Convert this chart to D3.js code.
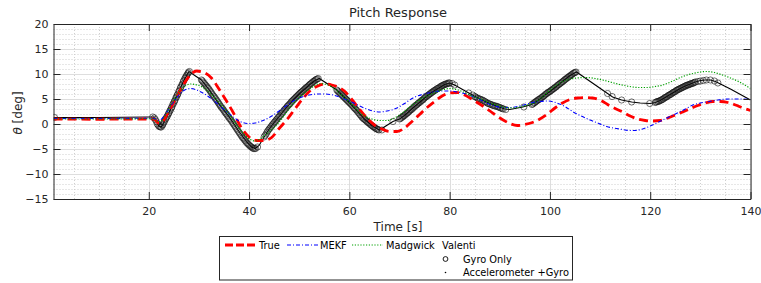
<!DOCTYPE html>
<meta charset="utf-8">
<style>
body { margin: 0; background: #fff; }
text { font-family: "DejaVu Sans", sans-serif; fill: #262626; }
.axis path, .axis line { stroke: #262626; }
.grid-major line { stroke: #dedede; stroke-width: 1; }
.grid-minor line { stroke: #cfcfcf; stroke-width: 1; stroke-dasharray: 1,2; }
.legend text { font-size: 9.8px; fill: #000; }
</style>
<svg width="761" height="283"></svg>
<script src="https://cdn.jsdelivr.net/npm/d3@7"></script>
<script>
// [time s, pitch deg]
var trueSeries = [[1,1.0],[10,0.95],[20,1.0],[21,1.0],[22,0.2],[23,0.8],[24,2.6],[25.5,5.3],[27,8.0],[28.5,10.0],[29.5,10.6],
  [31,10.3],[32.5,9.2],[34,7.0],[35.5,4.6],[37,2.0],[38.5,-0.8],[40,-2.6],[41.5,-3.3],[43,-3.3],[44.5,-2.7],[46,-0.9],
  [47.5,0.8],[49,2.8],[50.5,4.8],[52,6.5],[53.5,7.5],[55,8.0],[56.5,7.8],[57.5,7.5],[59,6.6],[60.5,4.9],[62,3.0],[63.5,1.2],
  [65,-0.2],[66.5,-1.0],[68,-1.5],[69.5,-1.5],[71,-0.8],[72.5,0.5],[74,1.9],[75.5,3.3],[77,4.5],[78.5,5.6],[80,6.2],[81.5,6.3],
  [83,5.8],[84.5,4.9],[86,4.0],[87.5,3.0],[89,1.9],[90.5,0.9],[92,0.1],[93.5,-0.3],[95,-0.1],[96.5,0.3],[98,1.0],[99.5,2.0],
  [101,3.2],[102.5,4.2],[104,4.9],[105.5,5.2],[107,5.3],[108.5,5.2],[110,4.8],[111.5,3.9],[113,3.1],[114.5,2.4],[116,1.6],
  [117.5,1.0],[119,0.7],[120.5,0.6],[122,0.7],[123.5,1.2],[125,1.8],[126.5,2.4],[128,3.1],[129.5,3.7],[131,4.2],[132.5,4.5],
  [134,4.5],[135.5,4.3],[137,3.8],[138.5,3.2],[140,2.7]];

var mekfSeries = [[1,1.1],[10,1.1],[20,1.15],[21,1.1],[22,0.7],[23,1.5],[24,3.0],[25,4.5],[26,5.8],[27,6.7],[28.3,7.1],
  [30,6.6],[32.3,5.2],[34,3.8],[35.6,2.4],[37,1.3],[38.2,0.5],[40,0.1],[41.2,0.2],[42.5,0.6],[44.2,1.4],[46,2.6],[48.2,4.2],
  [50,5.2],[52,5.8],[53.6,6.0],[55,6.0],[56.2,5.9],[58,5.4],[60.2,4.5],[62.5,3.4],[64.7,2.6],[66,2.4],[67.5,2.6],[69.5,3.2],
  [71,4.1],[72.7,5.2],[74.5,5.9],[76.7,6.4],[78.5,6.6],[80,6.6],[81.5,6.4],[84,5.8],[86,4.9],[87.6,4.1],[89,3.6],[90.5,3.3],
  [92,3.3],[94,3.6],[96.6,4.3],[98,4.5],[99.6,4.6],[101.4,4.2],[103,3.5],[104.5,2.5],[106,1.7],[108,0.8],[109.5,0.2],
  [111.3,-0.5],[113.9,-1.0],[115.9,-1.3],[117,-1.3],[118.5,-1.0],[120,-0.4],[121.9,0.5],[123.5,1.3],[125.2,2.1],[127,3.0],
  [128.5,3.8],[130,4.2],[131.8,4.5],[133.5,4.8],[135.8,5.0],[138,5.0],[140,4.9]];

var madgwickSeries = [[1,1.0],[10,1.0],[20,1.05],[21,1.0],[22,0.4],[23,1.2],[24,3.0],[25,4.8],[26,6.3],[27,7.4],[28.3,8.0],
  [30,7.7],[31.5,6.8],[32.9,5.5],[34.3,4.0],[35.6,2.5],[37.6,-0.3],[39,-2.0],[40.2,-3.1],[41.2,-3.4],[42,-3.1],[42.8,-2.5],
  [44.2,-1.4],[45.6,-0.1],[47.2,2.0],[48.8,4.1],[50.2,5.5],[51.6,6.6],[53,7.6],[54.2,8.1],[55.8,7.8],[57.2,6.9],[58.8,5.5],
  [60.8,3.6],[62.7,1.8],[64.5,1.0],[66,0.7],[67.5,0.7],[68.8,1.1],[70,1.8],[71.8,3.2],[73.5,4.5],[75,5.4],[76.7,6.1],
  [78.4,6.8],[80,7.1],[81.7,6.8],[83.4,6.1],[85,5.4],[86.7,4.8],[88,4.2],[89.4,3.8],[91,3.3],[92.5,3.2],[94,3.4],[95.5,3.8],
  [97,4.3],[98.5,5.4],[100,6.8],[101.5,7.9],[103.3,8.8],[105.3,9.2],[107.3,9.3],[109,9.1],[110.5,8.8],[112,8.4],[113.9,7.9],
  [115.9,7.5],[117.5,7.3],[119.3,7.3],[121,7.5],[122.5,7.8],[124.5,8.6],[126.5,9.5],[128.5,10.1],[130,10.4],[131.2,10.5],
  [132.8,10.3],[134.4,9.8],[136,9.2],[137.8,8.4],[140,7.1]];

// Valenti, accelerometer + gyro (solid black)
var accGyroSeries = [[1,1.3],[5,1.3],[10,1.3],[15,1.35],[20,1.4],[21,1.4],[21.5,0.6],[22,-0.4],[22.5,-0.6],[23,0.3],
  [24,2.2],[25,4.3],[26,6.5],[27,8.7],[28,10.5],[30.5,8.8],[32,6.9],[34,4.0],[36,1.5],[38,-1.5],[39.5,-3.5],[40.5,-4.6],
  [41.2,-4.9],[42,-4.3],[43,-2.6],[44,-1.0],[45,0.3],[46,1.5],[47,2.8],[48,3.9],[49,5.0],[50,6.0],[51,6.9],[52,7.8],[53,8.6],
  [54,9.1],[57.5,6.8],[58.5,5.8],[60,4.3],[61.5,2.7],[63,1.0],[64.5,-0.3],[66,-1.2],[68.7,0.5],[70,1.0],[71,1.7],[72,2.6],
  [73,3.5],[74,4.3],[75,5.2],[76,6.0],[77,6.7],[78,7.3],[79,7.9],[80,8.2],[81,7.8],[84,6.1],[86,5.0],[88,4.1],[89.6,3.5],
  [91,3.0],[92,2.9],[94.6,3.4],[96,3.8],[97,4.3],[98,5.0],[99,5.8],[100,6.5],[101,7.3],[102,8.1],[103,8.9],[104,9.7],
  [105.3,10.4],[111.5,6.1],[112.5,5.4],[114.3,4.8],[116.3,4.4],[118,4.2],[120,4.1],[121,4.3],[122,4.7],[123,5.3],[124,5.9],
  [125,6.5],[126,7.1],[127,7.6],[128,8.0],[129,8.4],[130,8.7],[131,8.8],[132,8.8],[133,8.5],[134,8.0],[136,7.0],[138,5.9],
  [140,4.8]];

// Valenti, gyro only (circle markers)
var gyroSeries = [[1.2,1.3],[20.8,1.4],[21.1,1.2],[21.3,0.9],[21.5,0.5],[21.7,0.0],[21.9,-0.3],[22.1,-0.5],[22.3,-0.6],
  [22.5,-0.6],[22.7,-0.3],[22.8,-0.1],[23.0,0.3],[23.1,0.5],[23.3,0.9],[23.4,1.1],[23.6,1.4],[23.7,1.6],[23.9,2.0],[24.0,2.2],
  [24.2,2.6],[24.3,2.8],[24.5,3.2],[24.6,3.4],[24.8,3.9],[24.9,4.1],[25.1,4.5],[25.2,4.7],[25.4,5.2],[25.5,5.4],[25.7,5.8],
  [25.8,6.0],[26.0,6.5],[26.1,6.7],[26.3,7.2],[26.4,7.4],[26.6,7.8],[26.7,8.0],[26.9,8.5],[27.0,8.7],[27.2,9.1],[27.3,9.3],
  [27.5,9.6],[27.6,9.8],[27.8,10.1],[27.9,10.3],[28.1,10.5],
  [30.5,8.8],[30.7,8.6],[30.9,8.3],[31.1,8.1],[31.3,7.8],[31.5,7.6],[31.7,7.3],[31.9,7.1],[32.1,6.8],[32.3,6.5],[32.5,6.2],
  [32.7,5.9],[32.9,5.6],[33.1,5.4],[33.3,5.1],[33.5,4.8],[33.7,4.5],[33.9,4.2],[34.1,3.9],[34.3,3.6],[34.5,3.3],[34.7,3.1],
  [34.9,2.8],[35.1,2.5],[35.3,2.2],[35.5,2.0],[35.7,1.7],[35.9,1.4],[36.1,1.1],[36.3,0.9],[36.5,0.6],[36.7,0.3],[36.9,0.0],
  [37.1,-0.3],[37.3,-0.6],[37.5,-0.9],[37.7,-1.2],[37.9,-1.5],[38.1,-1.8],[38.3,-2.1],[38.5,-2.4],[38.7,-2.7],[38.9,-2.9],
  [39.1,-3.2],[39.3,-3.4],[39.5,-3.7],[39.7,-3.9],[39.9,-4.1],[40.1,-4.3],[40.3,-4.5],[40.5,-4.6],[40.7,-4.8],[40.9,-4.9],
  [41.1,-4.9],[41.3,-4.9],
  [41.7,-4.6],[43.0,-2.6],[43.2,-2.3],[43.4,-2.0],[43.6,-1.6],[43.8,-1.3],[44.0,-1.0],[44.2,-0.8],[44.4,-0.5],[44.6,-0.2],
  [44.8,0.0],[45.0,0.3],[45.2,0.5],[45.4,0.8],[45.6,1.0],[45.8,1.3],[46.0,1.5],[46.2,1.7],[46.4,2.0],[46.6,2.2],[46.8,2.5],
  [47.0,2.8],[47.2,3.0],[47.4,3.2],[47.6,3.5],[47.8,3.7],[48.0,3.9],[48.2,4.1],[48.4,4.4],[48.6,4.6],[48.8,4.8],[49.0,5.0],
  [49.2,5.2],[49.4,5.4],[49.6,5.6],[49.8,5.8],[50.0,6.0],[50.2,6.2],[50.4,6.4],[50.6,6.5],[50.8,6.7],[51.0,6.9],[51.2,7.1],
  [51.4,7.3],[51.6,7.4],[51.8,7.6],[52.0,7.8],[52.2,8.0],[52.4,8.1],[52.6,8.3],[52.8,8.5],[53.0,8.6],[53.2,8.8],[53.4,8.9],
  [53.6,9.0],[53.8,9.1],
  [57.5,6.8],[57.7,6.6],[57.9,6.4],[58.1,6.2],[58.3,6.0],[58.5,5.8],[58.7,5.6],[58.9,5.4],[59.1,5.2],[59.3,5.0],[59.5,4.8],
  [59.7,4.6],[59.9,4.4],[60.1,4.2],[60.3,4.0],[60.5,3.8],[60.7,3.6],[60.9,3.3],[61.1,3.1],[61.3,2.9],[61.5,2.7],[61.7,2.4],
  [61.9,2.2],[62.1,1.9],[62.3,1.7],[62.5,1.4],[62.7,1.2],[62.9,1.0],[63.1,0.9],[63.3,0.7],[63.5,0.5],[63.7,0.3],[63.9,0.2],
  [64.1,0.0],[64.3,-0.2],[64.5,-0.3],[64.7,-0.5],[64.9,-0.6],[65.1,-0.8],[65.3,-0.9],[65.5,-1.0],[65.7,-1.1],[65.9,-1.2],
  [66.5,-1.2],
  [68.7,0.5],[70.0,1.0],[70.2,1.1],[70.4,1.3],[70.6,1.4],[70.8,1.6],[71.0,1.7],[71.2,1.9],[71.4,2.1],[71.6,2.2],[71.8,2.4],
  [72.0,2.6],[72.2,2.8],[72.4,2.9],[72.6,3.1],[72.8,3.3],[73.0,3.5],[73.2,3.7],[73.4,3.8],[73.6,4.0],[73.8,4.2],[74.0,4.3],
  [74.2,4.5],[74.4,4.7],[74.6,4.8],[74.8,5.0],[75.0,5.2],[75.2,5.4],[75.4,5.5],[75.6,5.7],[75.8,5.8],[76.0,6.0],[76.2,6.1],
  [76.4,6.3],[76.6,6.4],[76.8,6.6],[77.0,6.7],[77.2,6.8],[77.4,7.0],[77.6,7.1],[77.8,7.2],[78.0,7.3],[78.2,7.5],[78.4,7.6],
  [78.6,7.7],[78.8,7.8],[79.0,7.9],[79.2,8.0],[79.4,8.0],[79.6,8.1],[79.8,8.2],[80.0,8.2],[80.5,8.1],[81.0,7.8],
  [83.8,6.2],[84.6,5.8],[85.0,5.5],[85.2,5.4],[85.5,5.2],[85.7,5.1],[86.0,5.0],[86.2,4.9],[86.5,4.8],[86.7,4.7],[87.0,4.5],
  [87.2,4.4],[87.5,4.2],[87.7,4.1],[88.0,4.0],[88.2,3.9],[88.5,3.8],[88.7,3.7],[89.0,3.6],[89.2,3.6],[89.5,3.5],[89.7,3.4],
  [90.0,3.3],[90.2,3.2],[90.5,3.1],[90.7,3.0],[91.2,2.9],
  [94.8,3.4],[96.4,3.9],[96.6,4.0],[96.8,4.2],[97.0,4.3],[97.2,4.5],[97.4,4.6],[97.6,4.8],[97.8,4.9],[98.0,5.0],[98.2,5.2],
  [98.4,5.3],[98.6,5.5],[98.8,5.6],[99.0,5.8],[99.2,6.0],[99.4,6.1],[99.6,6.3],[99.8,6.4],[100.0,6.5],[100.2,6.7],
  [100.4,6.8],[100.6,7.0],[100.8,7.1],[101.0,7.3],[101.2,7.4],[101.4,7.6],[101.6,7.8],[101.8,7.9],[102.0,8.1],[102.2,8.2],
  [102.4,8.4],[102.6,8.5],[102.8,8.7],[103.0,8.9],[103.2,9.0],[103.4,9.2],[103.6,9.3],[103.8,9.5],[104.0,9.6],[104.2,9.8],
  [104.4,9.9],[104.6,10.1],[104.8,10.2],[105.0,10.3],[105.2,10.4],
  [111.5,6.1],[112.4,5.5],[114.3,4.8],[116.3,4.4],[119.9,4.1],[121.0,4.3],[121.2,4.4],[121.4,4.5],[121.6,4.5],[121.8,4.6],
  [122.0,4.7],[122.2,4.8],[122.4,4.9],[122.6,5.0],[122.8,5.2],[123.0,5.3],[123.2,5.4],[123.4,5.5],[123.6,5.7],[123.8,5.8],
  [124.0,5.9],[124.2,6.0],[124.4,6.2],[124.6,6.3],[124.8,6.4],[125.0,6.5],[125.2,6.7],[125.4,6.8],[125.6,6.9],[125.8,7.0],
  [126.0,7.1],[126.2,7.2],[126.4,7.3],[126.6,7.4],[126.8,7.5],[127.0,7.6],[127.2,7.7],[127.4,7.8],[127.6,7.8],[127.8,7.9],
  [128.0,8.0],[128.2,8.1],[128.4,8.1],[128.6,8.2],[128.8,8.3],[129.0,8.4],[129.5,8.5],[130.0,8.6],[130.6,8.7],[131.2,8.8],
  [132.0,8.8],[132.8,8.6],[133.5,8.2]];

var xTicks = [20, 40, 60, 80, 100, 120, 140];
var yTicks = [-15, -10, -5, 0, 5, 10, 15, 20];

var svg = d3.select("svg");
var plotLeft = 53.5, plotRight = 750.5, plotTop = 24, plotBottom = 199;

var x = d3.scaleLinear().domain([1, 140]).range([plotLeft, plotRight]);
var y = d3.scaleLinear().domain([-15, 20]).range([plotBottom, plotTop]);

// grid
var minorX = d3.range(5, 141, 5).filter(function(d) { return d % 20 != 0; });
var minorY = d3.range(-15, 21, 1).filter(function(d) { return d % 5 != 0; });

svg.append("g").attr("class", "grid-minor")
  .selectAll("line").data(minorX).enter().append("line")
    .attr("x1", function(d) { return Math.round(x(d)) + 0.5; })
    .attr("x2", function(d) { return Math.round(x(d)) + 0.5; })
    .attr("y1", plotTop).attr("y2", plotBottom);
svg.append("g").attr("class", "grid-minor")
  .selectAll("line").data(minorY).enter().append("line")
    .attr("y1", function(d) { return Math.round(y(d)) + 0.5; })
    .attr("y2", function(d) { return Math.round(y(d)) + 0.5; })
    .attr("x1", plotLeft).attr("x2", plotRight);
svg.append("g").attr("class", "grid-major")
  .selectAll("line").data(xTicks).enter().append("line")
    .attr("x1", function(d) { return Math.round(x(d)) + 0.5; })
    .attr("x2", function(d) { return Math.round(x(d)) + 0.5; })
    .attr("y1", plotTop).attr("y2", plotBottom);
svg.append("g").attr("class", "grid-major")
  .selectAll("line").data(yTicks).enter().append("line")
    .attr("y1", function(d) { return Math.round(y(d)) + 0.5; })
    .attr("y2", function(d) { return Math.round(y(d)) + 0.5; })
    .attr("x1", plotLeft).attr("x2", plotRight);

// series
svg.append("clipPath").attr("id", "clip").append("rect")
  .attr("x", plotLeft).attr("y", plotTop).attr("width", plotRight - plotLeft).attr("height", plotBottom - plotTop);
var plot = svg.append("g").attr("clip-path", "url(#clip)");

var straight = d3.line().x(function(d) { return x(d[0]); }).y(function(d) { return y(d[1]); });
var smooth = d3.line().curve(d3.curveMonotoneX)
  .x(function(d) { return x(d[0]); }).y(function(d) { return y(d[1]); });

plot.append("path").datum(accGyroSeries)
  .attr("d", straight).attr("fill", "none").attr("stroke", "#000").attr("stroke-width", 1.1);

plot.append("g").selectAll("circle").data(gyroSeries).enter().append("circle")
  .attr("cx", function(d) { return x(d[0]); })
  .attr("cy", function(d) { return y(d[1]); })
  .attr("r", 3.1)
  .attr("fill", "none").attr("stroke", "#111").attr("stroke-width", 0.6);

plot.append("path").datum(trueSeries)
  .attr("d", smooth).attr("fill", "none").attr("stroke", "#ff0000")
  .attr("stroke-width", 2.8).attr("stroke-dasharray", "9,5");
plot.append("path").datum(mekfSeries)
  .attr("d", smooth).attr("fill", "none").attr("stroke", "#0000ff")
  .attr("stroke-width", 1.1).attr("stroke-dasharray", "4,2,1,2");
plot.append("path").datum(madgwickSeries)
  .attr("d", smooth).attr("fill", "none").attr("stroke", "#00a000")
  .attr("stroke-width", 1.2).attr("stroke-dasharray", "1.2,1.6");

// axes
function styleAxis(g) {
  g.attr("font-family", "DejaVu Sans").attr("font-size", 11);
  g.select(".domain").attr("stroke-width", 1);
}
svg.append("g").attr("class", "axis").attr("transform", "translate(0," + plotBottom + ")")
  .call(d3.axisBottom(x).tickValues(xTicks).tickSizeInner(-7).tickSizeOuter(0).tickPadding(8)).call(styleAxis);
svg.append("g").attr("class", "axis").attr("transform", "translate(0," + plotTop + ")")
  .call(d3.axisTop(x).tickValues(xTicks).tickSizeInner(-7).tickSizeOuter(0).tickFormat("")).call(styleAxis);
svg.append("g").attr("class", "axis").attr("transform", "translate(" + plotLeft + ",0)")
  .call(d3.axisLeft(y).tickValues(yTicks).tickSizeInner(-7).tickSizeOuter(0).tickPadding(5)).call(styleAxis);
svg.append("g").attr("class", "axis").attr("transform", "translate(" + plotRight + ",0)")
  .call(d3.axisRight(y).tickValues(yTicks).tickSizeInner(-7).tickSizeOuter(0).tickFormat("")).call(styleAxis);

// titles
svg.append("text").attr("x", 398).attr("y", 17).attr("text-anchor", "middle")
  .attr("font-size", 13).text("Pitch Response");
svg.append("text").attr("x", 398).attr("y", 231).attr("text-anchor", "middle")
  .attr("font-size", 12).text("Time [s]");
var yl = svg.append("text").attr("transform", "translate(22,113) rotate(-90)")
  .attr("text-anchor", "middle").attr("font-size", 12);
yl.append("tspan").attr("font-style", "italic").text("\u03b8");
yl.append("tspan").text(" [deg]");

// legend
var lg = svg.append("g").attr("class", "legend");
lg.append("rect").attr("x", 219.5).attr("y", 236.5).attr("width", 353).attr("height", 43.5)
  .attr("fill", "#fff").attr("stroke", "#262626").attr("stroke-width", 1);
lg.append("line").attr("x1", 225).attr("x2", 255).attr("y1", 245).attr("y2", 245)
  .attr("stroke", "#ff0000").attr("stroke-width", 2.8).attr("stroke-dasharray", "8,3");
lg.append("text").attr("x", 259).attr("y", 248.5).text("True");
lg.append("line").attr("x1", 287).attr("x2", 318).attr("y1", 245).attr("y2", 245)
  .attr("stroke", "#0000ff").attr("stroke-width", 1.1).attr("stroke-dasharray", "4,2,1,2");
lg.append("text").attr("x", 320).attr("y", 248.5).text("MEKF");
lg.append("line").attr("x1", 352).attr("x2", 383).attr("y1", 245).attr("y2", 245)
  .attr("stroke", "#00a000").attr("stroke-width", 1.2).attr("stroke-dasharray", "1.2,1.6");
lg.append("text").attr("x", 386).attr("y", 248.5).text("Madgwick");
lg.append("text").attr("x", 442).attr("y", 248.5).text("Valenti");
lg.append("circle").attr("cx", 445.5).attr("cy", 259).attr("r", 2.4)
  .attr("fill", "none").attr("stroke", "#000").attr("stroke-width", 0.9);
lg.append("text").attr("x", 463).attr("y", 262.5).text("Gyro Only");
lg.append("circle").attr("cx", 445.5).attr("cy", 272.5).attr("r", 0.8).attr("fill", "#000");
lg.append("text").attr("x", 463).attr("y", 276).text("Accelerometer +Gyro");
</script>
